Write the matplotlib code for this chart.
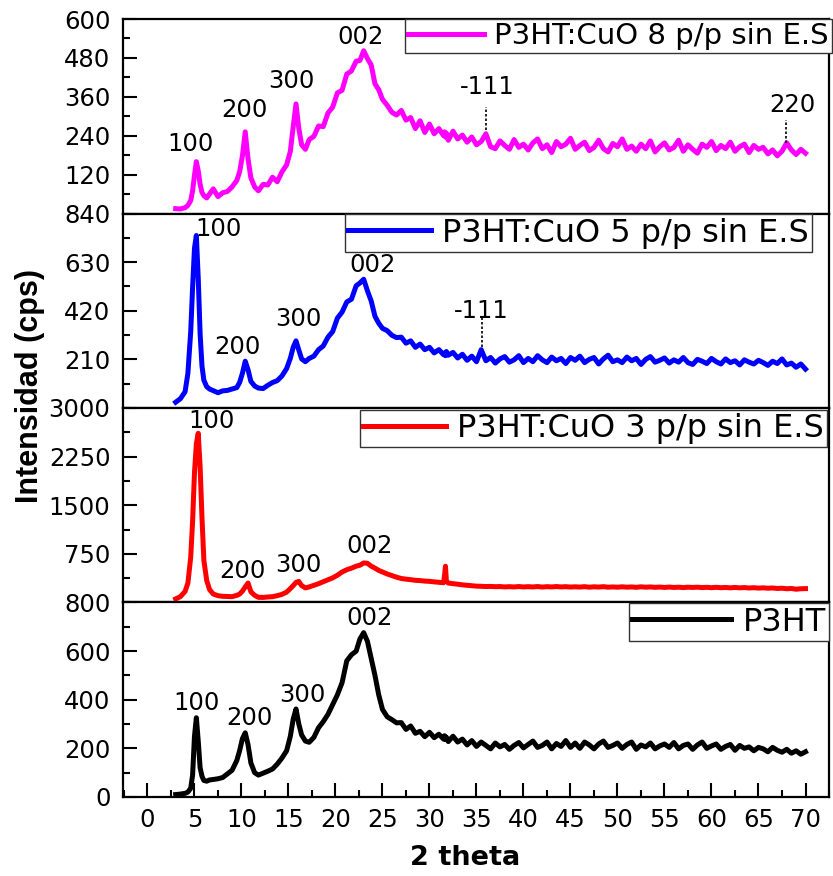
import matplotlib
matplotlib.use("Agg")
import matplotlib.pyplot as plt
from matplotlib.ticker import MultipleLocator, FixedLocator

# ---------------- data ----------------
two_theta = [
    3.0, 3.5, 4.0, 4.3, 4.6, 4.8, 5.0, 5.2, 5.4, 5.6,
    5.8, 6.0, 6.3, 6.6, 7.0, 7.5, 8.0, 8.5, 9.0, 9.5,
    9.8, 10.1, 10.4, 10.7, 11.0, 11.4, 11.8, 12.3, 12.8, 13.3,
    13.8, 14.3, 14.8, 15.2, 15.5, 15.8, 16.1, 16.4, 16.8, 17.2,
    17.7, 18.2, 18.7, 19.2, 19.7, 20.2, 20.7, 21.2, 21.7, 22.2,
    22.6, 23.0, 23.4, 23.8, 24.2, 24.6, 25.0, 25.5, 26.0, 26.5,
    27.0, 27.5, 28.0, 28.5, 29.0, 29.5, 30.0, 30.5, 31.0, 31.5,
    31.6, 31.7, 31.8, 32.0, 32.5, 33.0, 33.5, 34.0, 34.5, 35.0,
    35.5, 36.0, 36.5, 37.0, 37.5, 38.0, 38.5, 39.0, 39.5, 40.0,
    40.5, 41.0, 41.5, 42.0, 42.5, 43.0, 43.5, 44.0, 44.5, 45.0,
    45.5, 46.0, 46.5, 47.0, 47.5, 48.0, 48.5, 49.0, 49.5, 50.0,
    50.5, 51.0, 51.5, 52.0, 52.5, 53.0, 53.5, 54.0, 54.5, 55.0,
    55.5, 56.0, 56.5, 57.0, 57.5, 58.0, 58.5, 59.0, 59.5, 60.0,
    60.5, 61.0, 61.5, 62.0, 62.5, 63.0, 63.5, 64.0, 64.5, 65.0,
    65.5, 66.0, 66.5, 67.0, 67.5, 68.0, 68.5, 69.0, 69.5, 70.0,
]

p3ht_cuo8 = [
    15, 14, 18, 25, 40, 70, 118, 160, 132, 90,
    65, 55, 48, 60, 76, 52, 64, 68, 82, 102,
    128, 178, 252, 168, 110, 82, 70, 90, 88, 112,
    98, 128, 150, 192, 268, 338, 262, 212, 198, 228,
    238, 270, 268, 310, 328, 372, 380, 430, 440, 470,
    472, 502, 478, 458, 400, 382, 352, 334, 312, 304,
    318, 288, 296, 262, 286, 250, 276, 246, 262, 240,
    252, 236, 248, 226, 254, 230, 242, 220, 236, 212,
    222, 246, 206, 200, 224, 210, 198, 228, 204, 214,
    196, 218, 230, 200, 212, 188, 222, 206, 214, 232,
    198, 210, 220, 194, 204, 226, 200, 190, 216, 206,
    230, 198, 208, 192, 214, 200, 224, 190, 206, 218,
    196, 204, 226, 192, 212, 198, 186, 214, 204, 222,
    194, 210, 200, 220, 192, 206, 214, 188, 210, 198,
    204, 184, 196, 178, 192, 218, 196, 182, 198, 186,
]

p3ht_cuo5 = [
    25, 40, 70, 150, 330, 520, 690, 745, 560, 320,
    180, 120, 92, 82, 75, 66, 74, 76, 82, 88,
    110, 150, 202, 165, 115, 95, 86, 84, 98, 110,
    118, 138, 170, 215, 262, 290, 250, 212, 200, 214,
    224, 252, 268, 306, 330, 388, 414, 458, 470, 528,
    540, 556, 506, 462, 396, 366, 344, 334, 314, 304,
    306, 280, 290, 262, 276, 252, 262, 238, 252, 230,
    238, 226, 244, 228, 240, 216, 232, 206, 224, 200,
    252, 204, 218, 194, 212, 222, 198, 208, 226, 196,
    214, 200, 226, 208, 196, 220, 204, 214, 192, 218,
    206, 224, 196, 210, 218, 190, 212, 228, 200, 208,
    196, 220, 204, 214, 188, 210, 222, 198, 206, 216,
    194, 208, 198, 218, 196, 188, 210, 202, 192, 214,
    200, 190, 212, 196, 204, 186, 208, 198, 190, 206,
    196, 184, 202, 192, 212, 186, 194, 176, 190, 168,
]

p3ht_cuo3 = [
    55, 90, 170, 300, 700, 1250, 2000, 2450, 2610, 2100,
    1300, 650, 340, 200, 130, 105, 95, 92, 90, 110,
    130, 175, 240, 300, 165, 110, 80, 78, 85, 90,
    105, 125, 160, 215, 260, 310, 325, 260, 225, 240,
    265, 290, 320, 350, 380, 420, 470, 505, 530, 560,
    575, 610, 605, 560, 530, 495, 470, 440, 415, 390,
    370, 360, 352, 342, 338, 330, 326, 318, 312, 305,
    420, 560, 330, 300, 290, 282, 272, 265, 258, 252,
    250, 246, 248, 244, 246, 240, 244, 240, 246, 240,
    244, 240, 246, 238, 244, 240, 246, 240, 244, 238,
    242, 238, 244, 236, 242, 238, 244, 236, 240, 236,
    242, 236, 240, 234, 242, 236, 240, 234, 238, 232,
    238, 232, 236, 230, 236, 232, 236, 230, 234, 228,
    234, 228, 232, 226, 232, 226, 230, 224, 228, 222,
    226, 220, 224, 216, 220, 212, 216, 205, 212, 214,
]

p3ht = [
    10, 12, 15, 20, 36, 90, 250, 326, 230, 120,
    85, 68, 65, 70, 72, 75, 80, 95, 110, 150,
    190, 240, 264, 215, 140, 100, 90, 98, 106, 115,
    135, 160, 190, 250, 320, 362, 300, 255, 230, 225,
    245, 285, 310, 340, 380, 420, 470, 560, 585, 600,
    650, 676, 640, 570, 500, 420, 360, 330, 318, 305,
    306, 278, 292, 262, 270, 248, 266, 244, 258, 238,
    252, 236, 246, 228, 250, 226, 238, 214, 232, 208,
    226, 212, 198, 222, 206, 216, 196, 212, 224, 202,
    216, 230, 204, 212, 226, 198, 220, 208, 232, 204,
    222, 200, 226, 214, 198, 218, 230, 204, 212, 222,
    200, 216, 226, 196, 214, 206, 222, 198, 210, 218,
    204, 224, 198, 212, 218, 196, 214, 226, 200, 210,
    218, 196, 208, 216, 192, 212, 200, 206, 190, 204,
    198, 186, 204, 192, 184, 196, 180, 190, 176, 186,
]

series_labels = ["P3HT:CuO 8 p/p sin E.S", "P3HT:CuO 5 p/p sin E.S",
                 "P3HT:CuO 3 p/p sin E.S", "P3HT"]

yticks_cuo8 = [120, 240, 360, 480, 600]
yticks_cuo5 = [210, 420, 630, 840]
yticks_cuo3 = [750, 1500, 2250, 3000]
yticks_p3ht = [0, 200, 400, 600, 800]
xticks = [0, 5, 10, 15, 20, 25, 30, 35, 40, 45, 50, 55, 60, 65, 70]

# peak labels (text, 2theta, intensity)
peaks_cuo8 = [("100", 4.6, 215), ("200", 10.3, 318), ("300", 15.3, 410),
              ("002", 22.7, 545), ("-111", 36.1, 390), ("220", 68.6, 335)]
peaks_cuo5 = [("100", 7.6, 772), ("200", 9.6, 263), ("300", 16.0, 385),
              ("002", 23.9, 616), ("-111", 35.5, 420)]
peaks_cuo3 = [("100", 6.8, 2800), ("200", 10.1, 490), ("300", 16.0, 572),
              ("002", 23.6, 875)]
peaks_p3ht = [("100", 5.2, 388), ("200", 10.8, 326), ("300", 16.5, 421),
              ("002", 23.6, 738)]
# dotted marker lines (2theta, from, to)
marks_cuo8 = [(36.0, 258, 330), (67.9, 218, 289)]
marks_cuo5 = [(35.6, 263, 393)]

# ---------------- styling ----------------
FONT = "DejaVu Sans"
plt.rcParams["font.family"] = [FONT]

fig = plt.figure(figsize=(8.33, 8.76), dpi=100)
gs = fig.add_gridspec(4, 1, left=0.1477, right=0.9952, top=0.9783,
                      bottom=0.0902, hspace=0)
axes = [fig.add_subplot(gs[i, 0]) for i in range(4)]

panels = [
    (p3ht_cuo8, "#FF00FF", 600, yticks_cuo8, 60, peaks_cuo8, marks_cuo8,
     dict(bbox_to_anchor=(1.004, 1.0), fontsize=21, handlelength=2.6)),
    (p3ht_cuo5, "#0000FF", 840, yticks_cuo5, 105, peaks_cuo5, marks_cuo5,
     dict(bbox_to_anchor=(0.976, 0.995), fontsize=23, handlelength=2.6)),
    (p3ht_cuo3, "#FF0000", 3000, yticks_cuo3, 375, peaks_cuo3, [],
     dict(bbox_to_anchor=(0.997, 0.99), fontsize=23, handlelength=2.6)),
    (p3ht, "#000000", 800, yticks_p3ht, 100, peaks_p3ht, [],
     dict(bbox_to_anchor=(1.0, 0.995), fontsize=23, handlelength=3.1)),
]

for i, (ax, (yv, col, ymax, yt, ymin_step, pk, mk, leg)) in enumerate(zip(axes, panels)):
    ax.plot(two_theta, yv, color=col, lw=3.6, solid_joinstyle="round",
            label=series_labels[i], zorder=3)
    ax.set_xlim(-2.6, 72.5)
    ax.set_ylim(0, ymax)
    ax.yaxis.set_major_locator(FixedLocator(yt))
    ax.yaxis.set_minor_locator(MultipleLocator(ymin_step))
    ax.tick_params(axis="y", which="major", direction="in", length=10,
                   width=1.5, labelsize=17.5, pad=9)
    ax.tick_params(axis="y", which="minor", direction="in", length=5,
                   width=1.5)
    for s in ax.spines.values():
        s.set_linewidth(1.6)
    for (txt, xx, yy) in pk:
        ax.text(xx, yy, txt, ha="center", va="center", fontsize=17.5, zorder=5)
    for (xx, y0, y1) in mk:
        ax.plot([xx, xx], [y0, y1], color="black", lw=1.2,
                linestyle=(0, (1.5, 1.2)), zorder=4)
    lg = ax.legend(loc="upper right", borderaxespad=0, fancybox=False,
                   framealpha=1, borderpad=0.1, handletextpad=0.35,
                   **leg)
    lg.get_frame().set_edgecolor("#333333")
    lg.get_frame().set_linewidth(1.0)
    lg.set_zorder(6)
    if i < 3:
        ax.tick_params(axis="x", which="both", bottom=False, labelbottom=False)
    else:
        ax.xaxis.set_major_locator(FixedLocator(xticks))
        ax.xaxis.set_minor_locator(MultipleLocator(2.5))
        ax.tick_params(axis="x", which="major", direction="in", length=10,
                       width=1.5, labelsize=17.5, pad=8)
        ax.tick_params(axis="x", which="minor", direction="in", length=5,
                       width=1.5)

fig.text(0.036, 0.559, "Intensidad (cps)", rotation=90, ha="center",
         va="center", fontsize=22, fontweight="bold",
         family=["Liberation Sans", "DejaVu Sans"])
fig.text(0.558, 0.0205, "2 theta", ha="center", va="center",
         fontsize=19.5, fontweight="bold")

fig.savefig("out.png", dpi=100)
